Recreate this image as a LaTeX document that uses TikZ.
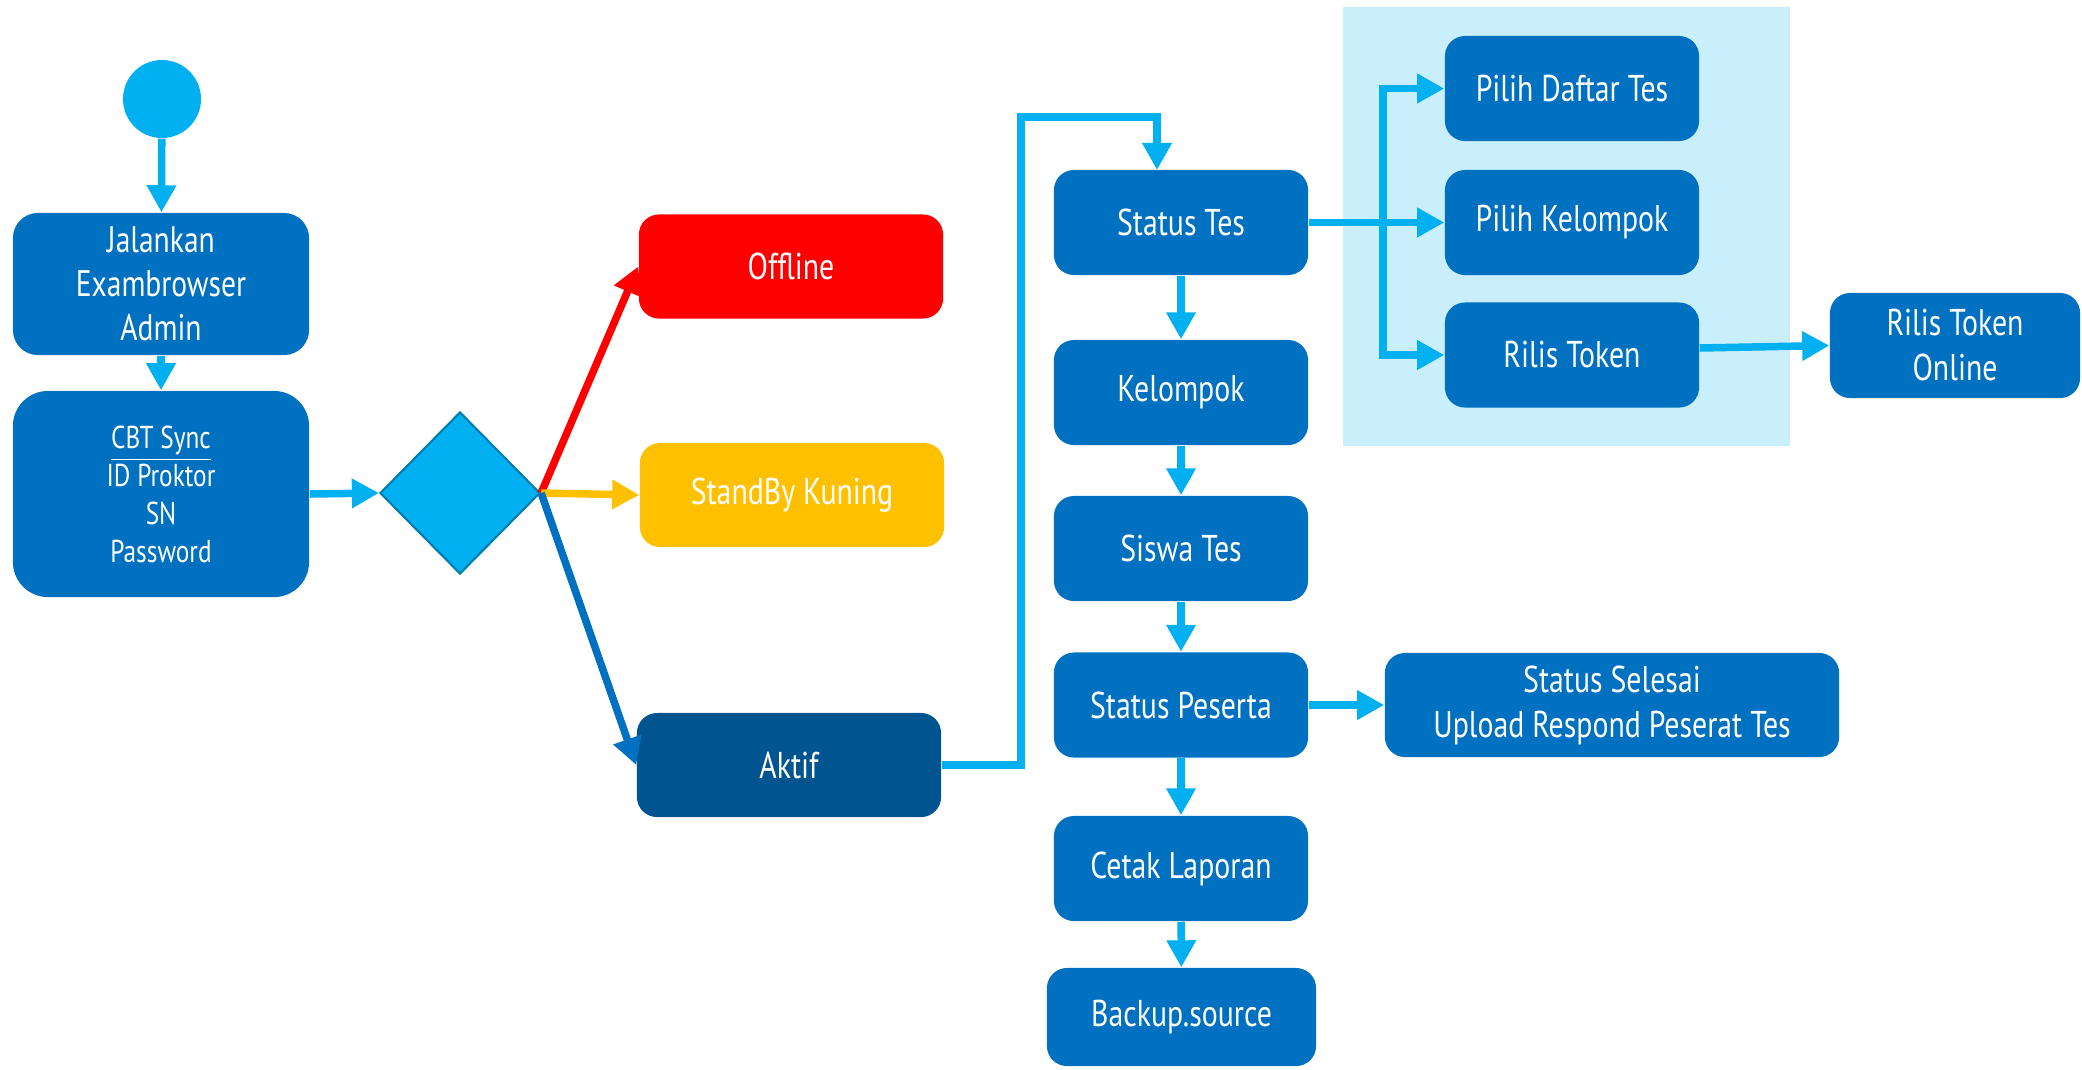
\documentclass[tikz,border=0pt]{standalone}
\usepackage{fontspec}
\setmainfont{PT Sans}[FakeStretch=0.8]
\usetikzlibrary{arrows.meta,shapes.geometric}
\definecolor{boxblue}{RGB}{0,112,192}
\definecolor{cyanline}{RGB}{0,176,240}
\definecolor{redc}{RGB}{255,0,0}
\definecolor{yellowc}{RGB}{255,192,0}
\definecolor{aktifc}{RGB}{0,85,145}
\definecolor{bglight}{RGB}{201,239,253}
\definecolor{diaedge}{RGB}{0,125,175}
\tikzset{
  fbox/.style={rounded corners=0.2cm, fill=boxblue, draw=none, text=white, align=center,
    inner sep=0pt, font=\fontsize{10.6}{12.8}\selectfont},
  midbox/.style={fbox, minimum width=2.54cm, minimum height=1.05cm},
  statebox/.style={fbox, minimum width=3.04cm, minimum height=1.04cm},
  arr/.style={draw=cyanline, line width=0.075cm,
    -{Triangle[length=0.27cm,width=0.28cm]}},
  plainline/.style={draw=cyanline, line width=0.075cm}
}
\begin{document}
\begin{tikzpicture}[x=0.01cm,y=-0.01cm]
\useasboundingbox (0,0) rectangle (2082,1069);
% light background panel
\fill[bglight] (1343,7) rectangle (1790,446);

% start
\node[circle, fill=cyanline, minimum size=0.78cm, inner sep=0pt] (start) at (162,99) {};
\node[fbox, rounded corners=0.25cm, minimum width=2.96cm, minimum height=1.42cm,
  font=\fontsize{10.5}{12.5}\selectfont] (jal) at (161,284) {Jalankan\\Exambrowser\\Admin};
\node[fbox, rounded corners=0.35cm, minimum width=2.96cm, minimum height=2.06cm,
  font=\fontsize{9}{10.8}\selectfont] (cbt) at (161,494) {\underline{CBT Sync}\\ID Proktor\\SN\\Password};
\node[diamond, fill=cyanline, draw=diaedge, line width=0.6pt, minimum width=1.6cm,
  minimum height=1.62cm, inner sep=0pt] (dec) at (460,493) {};

% states
\node[statebox, fill=redc] (offline) at (791,266.5) {\raisebox{-0.04cm}{Offline}};
\node[statebox, fill=yellowc] (standby) at (792,495) {\raisebox{-0.04cm}{StandBy Kuning}};
\node[statebox, fill=aktifc] (aktif) at (789,765) {\raisebox{-0.04cm}{Aktif}};

% main column
\node[midbox] (stes) at (1181,222.5) {\raisebox{-0.04cm}{Status Tes}};
\node[midbox] (kel) at (1181,392.5) {\raisebox{-0.04cm}{Kelompok}};
\node[midbox] (siswa) at (1181,548.5) {\raisebox{-0.04cm}{Siswa Tes}};
\node[midbox] (peserta) at (1181,705) {\raisebox{-0.04cm}{Status Peserta}};
\node[midbox] (cetak) at (1181,868.5) {\raisebox{-0.04cm}{Cetak Laporan}};
\node[midbox, minimum width=2.69cm, minimum height=0.98cm] (backup) at (1181.5,1017) {\raisebox{-0.04cm}{Backup.source}};

% right column
\node[midbox] (daftar) at (1572,88.5) {\raisebox{-0.04cm}{Pilih Daftar Tes}};
\node[midbox] (pkel) at (1572,222.5) {\raisebox{-0.04cm}{Pilih Kelompok}};
\node[midbox] (rtoken) at (1572,355) {\raisebox{-0.04cm}{Rilis Token}};
\node[midbox, minimum width=2.50cm] (online) at (1955,345.5) {Rilis Token\\Online};
\node[fbox, minimum width=4.54cm, minimum height=1.04cm] (selesai) at (1612,705) {Status Selesai\\Upload Respond Peserat Tes};

% connectors
\draw[arr] (start) -- (jal);
\draw[arr] (jal) -- (cbt);
\draw[arr] (cbt.east) -- (dec.west);
\draw[arr, draw=redc] (dec.east) -- (offline.west);
\draw[arr, draw=yellowc] (dec.east) -- (standby.west);
\draw[arr, draw=boxblue] (dec.east) -- (aktif.west);

\coordinate (loopup) at (1021,117);
\coordinate (stesin) at (1157,170);
\draw[arr] (aktif.east) -| (loopup) -| (stesin);

\draw[arr] (stes) -- (kel);
\draw[arr] (kel) -- (siswa);
\draw[arr] (siswa) -- (peserta);
\draw[arr] (peserta) -- (cetak);
\draw[arr] (cetak) -- (backup);

\coordinate (branch) at (1383,222.5);
\draw[arr] (stes.east) -- (pkel.west);
\draw[arr] (branch) |- (daftar.west);
\draw[arr] (branch) |- (rtoken.west);
\draw[arr] ([yshift=0.07cm]rtoken.east) -- (online.west);
\draw[arr] (peserta.east) -- (selesai.west);
\end{tikzpicture}
\end{document}
